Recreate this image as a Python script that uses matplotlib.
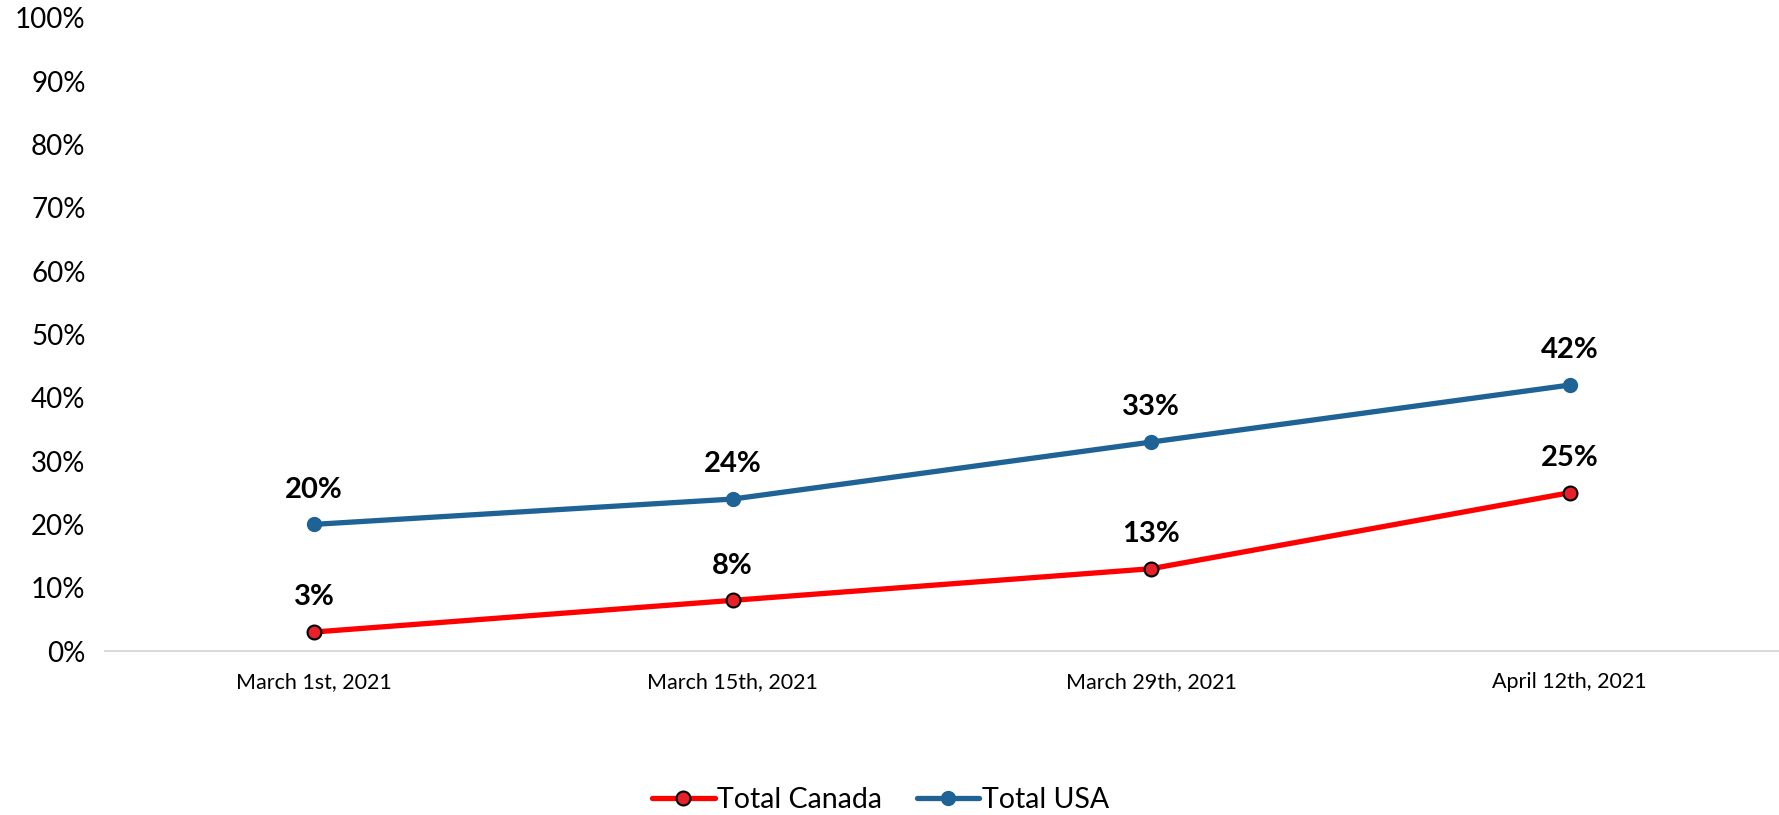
import matplotlib
matplotlib.use("Agg")
import matplotlib.pyplot as plt
from matplotlib.ticker import FuncFormatter

categories = ["March 1st, 2021", "March 15th, 2021", "March 29th, 2021", "April 12th, 2021"]
canada = [3, 8, 13, 25]
usa = [20, 24, 33, 42]
yticks = list(range(0, 101, 10))

plt.rcParams['font.family'] = ['Lato', 'DejaVu Sans']

fig = plt.figure(figsize=(17.79, 8.15), dpi=100)
ax = fig.add_axes([0.059, 0.2012, 0.941, 0.777])

x = list(range(len(categories)))
red = "#FF0000"
blue = "#1F6396"
ax.plot(x, canada, color=red, lw=3.8, marker='o', ms=10, mfc="#E8202A", mec="black", mew=1.5,
        label="Total Canada", solid_capstyle='round', zorder=3)
ax.plot(x, usa, color=blue, lw=3.8, marker='o', ms=10, mfc=blue, mec=blue,
        label="Total USA", solid_capstyle='round', zorder=3)

for xi, v in zip(x, canada):
    ax.annotate(f"{v}%", (xi, v), xytext=(0, 25), textcoords='offset points',
                ha='center', va='center', fontsize=21, fontweight='bold')
for xi, v in zip(x, usa):
    ax.annotate(f"{v}%", (xi, v), xytext=(0, 25), textcoords='offset points',
                ha='center', va='center', fontsize=21, fontweight='bold')

ax.set_xlim(-0.5, 3.5)
ax.set_ylim(0, 100)
ax.set_yticks(yticks)
ax.yaxis.set_major_formatter(FuncFormatter(lambda v, p: f"{int(v)}%"))
ax.set_xticks(x)
ax.set_xticklabels(categories, fontsize=15.5)
ax.tick_params(axis='y', labelsize=20, length=0, pad=14)
ax.tick_params(axis='x', length=0, pad=15)
for s in ['top', 'right', 'left']:
    ax.spines[s].set_visible(False)
ax.spines['bottom'].set_color("#D9D9D9")
ax.spines['bottom'].set_linewidth(1.5)

leg = fig.legend(loc='center', bbox_to_anchor=(0.495, 0.018), ncol=2, frameon=False,
                 fontsize=20.5, handlelength=2.2, handletextpad=0.1, columnspacing=1.2)

fig.savefig("out.png", dpi=100)
